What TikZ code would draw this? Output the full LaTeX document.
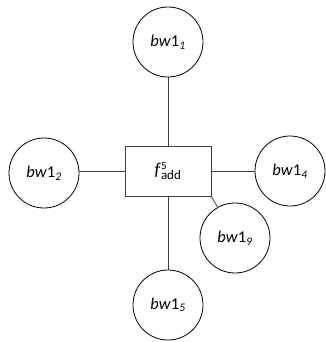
\documentclass[tikz,border=0pt]{standalone}
\usepackage{fontspec}
\setmainfont{Carlito}
\begin{document}
\begin{tikzpicture}[x=1pt,y=-1pt,
  bw/.style={draw=black,circle,line width=0.8pt,minimum size=70pt,inner sep=0pt,font=\fontsize{16.5}{18}\selectfont},
  box/.style={draw=black!75,line width=0.8pt,minimum width=86pt,minimum height=50pt,inner sep=0pt,font=\fontsize{18}{20}\selectfont},
  con/.style={draw=black!75,line width=0.8pt}]
\useasboundingbox (0,0) rectangle (325,342);
\node[box] (f) at (168,171) {\textit{f}$^{\mbox{\fontsize{11}{12}\selectfont 5}}_{\mbox{\fontsize{13}{14}\selectfont add}}$};
\node[bw] (b1) at (168,42) {\textit{bw}1\textsubscript{\textit{1}}};
\node[bw] (b2) at (44,173) {\textit{bw}1\textsubscript{\textit{2}}};
\node[bw] (b4) at (290,171) {\textit{bw}1\textsubscript{\textit{4}}};
\node[bw] (b9) at (235,238) {\textit{bw}1\textsubscript{\textit{9}}};
\node[bw] (b5) at (168,305) {\textit{bw}1\textsubscript{\textit{5}}};
\draw[con] (f.north) -- (b1);
\draw[con] (f.west) -- (b2.east |- f.west);
\draw[con] (f.east) -- (b4);
\draw[con] (f.south) -- (b5);
\draw[con] (f.south east) -- (b9);
\end{tikzpicture}
\end{document}
